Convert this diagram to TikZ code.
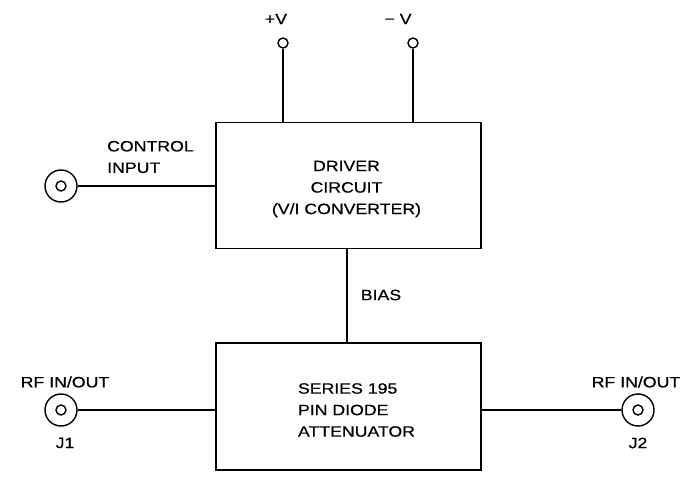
\documentclass[tikz,border=0pt]{standalone}
\usepackage{fontspec}
\setmainfont{Liberation Sans}
\newfontfamily\blockfont[FakeStretch=1.18,FakeBold=0.6]{Liberation Sans}
\usetikzlibrary{positioning,calc}

\begin{document}
\begin{tikzpicture}[x=1pt,y=-1pt,
block/.style={draw,line width=1.7pt,minimum width=265pt,minimum height=126pt},
lbl/.style={inner sep=0pt,font=\blockfont\fontsize{15}{21.5}\selectfont},
jack/.style={draw,circle,line width=1.4pt,minimum size=32pt,inner sep=0pt},
pin/.style={draw,circle,line width=1.4pt,minimum size=10pt,inner sep=0pt},
wire/.style={line width=1.7pt}]
\useasboundingbox (0,0) rectangle (685,478);
% blocks
\node[block] (driver) at (348.5,185.5) {};
\node[lbl,align=center] (drvtxt) at ($(driver)+(-2,3.5)$) {DRIVER\\CIRCUIT\\(V/I CONVERTER)};
\node[block,minimum height=127pt] (atten) at (348.5,406.5) {};
\node[lbl,align=left] (atttxt) at ($(atten)+(8,3.5)$) {SERIES 195\\PIN DIODE\\ATTENUATOR};
% supply pins
\node[pin] (pv) at (283,43) {};
\node[pin] (nv) at (413,43) {};
\node[lbl] (pvlbl) at (276,19) {+V};
\node[lbl] (nvlbl) at (398,19) {\textminus\ V};
\draw[wire] (pv.south)--(pv |- driver.north);
\draw[wire] (nv.south)--(nv |- driver.north);
% control input
\node[jack] (ctrl) at (61,186) {};
\node[pin] (ctrlc) at (61,186) {};
\node[lbl,anchor=west,align=left] (ctrllbl) at (107,157) {CONTROL\\INPUT};
\draw[wire] (ctrl.east)--(ctrl -| driver.west);
% bias
\coordinate (biasx) at (347,0);
\draw[wire] (biasx |- driver.south)--(biasx |- atten.north);
\node[lbl] (biaslbl) at (381,295) {BIAS};
% rf ports
\node[jack] (j1) at (61,410) {};
\node[pin] (j1c) at (61,410) {};
\node[jack] (j2) at (638,410) {};
\node[pin] (j2c) at (638,410) {};
\node[lbl] (j1lbl) at (65,382) {RF IN/OUT};
\node[lbl] (j2lbl) at (636,382) {RF IN/OUT};
\node[lbl] (j1name) at (65,443) {J1};
\node[lbl] (j2name) at (638,443) {J2};
\draw[wire] (j1.east)--(j1 -| atten.west);
\draw[wire] (atten.east |- j2)--(j2.west);
\end{tikzpicture}
\end{document}
